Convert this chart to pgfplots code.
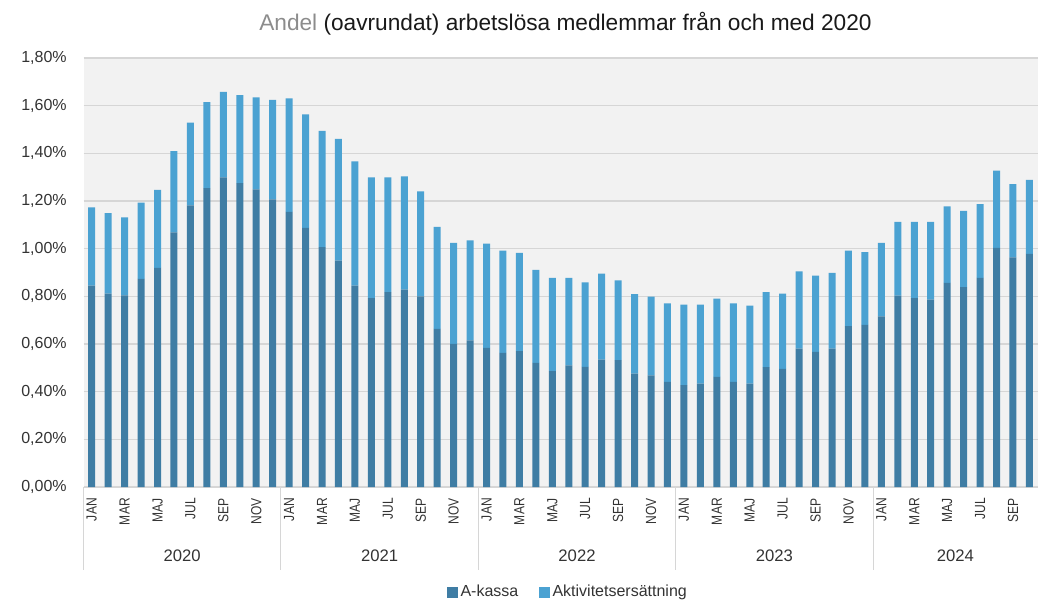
\documentclass[border=0pt]{standalone}
\usepackage{pgfplots}
\pgfplotsset{compat=1.18}
\usepackage{pgfplotstable}
\usepackage{fontspec}
\setmainfont{Liberation Sans}
\newfontfamily\condfont{Liberation Sans}[FakeStretch=0.82]
\definecolor{akassa}{HTML}{3F7DA4}
\definecolor{aktiv}{HTML}{4BA2D2}
\definecolor{plotbg}{HTML}{F2F2F2}
\definecolor{gridc}{HTML}{D6D6D6}
\definecolor{txt}{HTML}{333333}
\definecolor{titlegray}{HTML}{8C8C8C}

\pgfplotstableread{
x a b
0 0.845 0.328
1 0.811 0.338
2 0.804 0.327
3 0.873 0.320
4 0.919 0.328
5 1.068 0.341
6 1.182 0.347
7 1.254 0.361
8 1.299 0.359
9 1.275 0.369
10 1.249 0.386
11 1.207 0.417
12 1.154 0.477
13 1.087 0.476
14 1.007 0.487
15 0.950 0.511
16 0.845 0.521
17 0.793 0.506
18 0.818 0.481
19 0.828 0.475
20 0.800 0.440
21 0.663 0.429
22 0.601 0.423
23 0.615 0.420
24 0.584 0.437
25 0.563 0.429
26 0.570 0.412
27 0.521 0.390
28 0.486 0.391
29 0.510 0.367
30 0.504 0.355
31 0.535 0.360
32 0.532 0.335
33 0.476 0.333
34 0.468 0.331
35 0.441 0.330
36 0.427 0.338
37 0.434 0.331
38 0.462 0.328
39 0.441 0.329
40 0.434 0.327
41 0.503 0.315
42 0.496 0.315
43 0.581 0.324
44 0.567 0.320
45 0.581 0.318
46 0.675 0.317
47 0.680 0.306
48 0.716 0.308
49 0.803 0.309
50 0.793 0.319
51 0.786 0.326
52 0.856 0.321
53 0.839 0.320
54 0.877 0.310
55 1.003 0.324
56 0.964 0.307
57 0.978 0.311
}\datatable

\begin{document}
\begin{tikzpicture}[x=1pt,y=1pt]
\path[use as bounding box] (0,0) rectangle (778.5,-450.75);
\node[anchor=base, font=\fontsize{17}{20}\selectfont, text=black!90] at (424.1,-22.5)
  {\textcolor{titlegray}{Andel} (oavrundat) arbetslösa medlemmar från och med 2020};
\begin{axis}[
  at={(62.625pt,-365.25pt)}, anchor=south west,
  scale only axis, width=715.6pt, height=321.75pt,
  xmin=-0.5, xmax=57.5, ymin=0, ymax=1.8,
  ybar stacked, bar width=5.25pt,
  clip=false,
  axis background/.style={fill=plotbg},
  axis line style={draw=none},
  major tick length=0pt,
  ymajorgrids, grid style={gridc, line width=0.9pt},
  /pgf/number format/assume math mode=true,
  ytick={0,0.2,0.4,0.6,0.8,1,1.2,1.4,1.6,1.8},
  yticklabel={\pgfmathprintnumber[fixed,fixed zerofill,precision=2,use comma]{\tick}\%},
  yticklabel style={font=\fontsize{12}{14}\selectfont, text=txt, inner sep=0pt, xshift=-12.4pt},
  xtick={0,2,...,56},
  xticklabels={JAN,MAR,MAJ,JUL,SEP,NOV,JAN,MAR,MAJ,JUL,SEP,NOV,JAN,MAR,MAJ,JUL,SEP,NOV,JAN,MAR,MAJ,JUL,SEP,NOV,JAN,MAR,MAJ,JUL,SEP},
  xticklabel style={yshift=-8.25pt, rotate=90, anchor=east, inner sep=0pt, font=\condfont\fontsize{11}{12}\selectfont, text=txt},
  legend columns=2,
  legend image code/.code={\fill[#1] (0pt,-4.1pt) rectangle (8.25pt,4.1pt);},
  legend style={at={(0.508,-0.245)}, anchor=center, draw=none, fill=none,
    font=\fontsize{12}{14}\selectfont, text=txt,
    nodes={inner sep=2.2pt},
    /tikz/every even column/.append style={column sep=13pt}},
]
\addplot[fill=akassa, draw=none] table[x=x,y=a]{\datatable};
\addplot[fill=aktiv, draw=none] table[x=x,y=b]{\datatable};
\legend{A-kassa, Aktivitetsersättning}
\pgfplotsinvokeforeach{-0.5,11.5,23.5,35.5,47.5}{
  \draw[gridc, line width=0.8pt] (axis cs:#1,0) -- ++(0pt,-62.25pt);
}
\node[yshift=-51.75pt, font=\fontsize{12.5}{14}\selectfont, text=txt] at (axis cs:5.5,0) {2020};
\node[yshift=-51.75pt, font=\fontsize{12.5}{14}\selectfont, text=txt] at (axis cs:17.5,0) {2021};
\node[yshift=-51.75pt, font=\fontsize{12.5}{14}\selectfont, text=txt] at (axis cs:29.5,0) {2022};
\node[yshift=-51.75pt, font=\fontsize{12.5}{14}\selectfont, text=txt] at (axis cs:41.5,0) {2023};
\node[yshift=-51.75pt, font=\fontsize{12.5}{14}\selectfont, text=txt] at (axis cs:52.5,0) {2024};
\end{axis}
\end{tikzpicture}
\end{document}
